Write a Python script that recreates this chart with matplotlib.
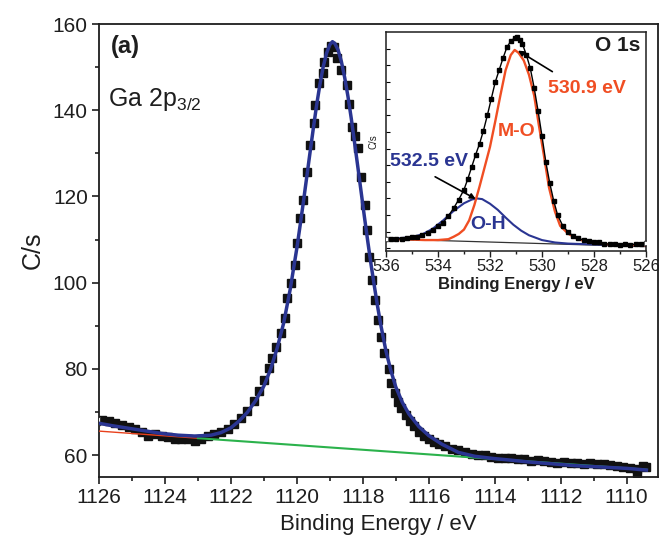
import numpy as np
import matplotlib
matplotlib.use('Agg')
import matplotlib.pyplot as plt
from matplotlib.ticker import MultipleLocator

plt.rcParams['font.family'] = ['Liberation Sans', 'DejaVu Sans']

#Ga 2p3/2 data (binding energy, counts)
ga_E = [1126.1, 1125.9, 1125.7, 1125.5, 1125.3, 1125.1, 1124.9, 1124.7, 1124.5, 1124.3,
        1124.1, 1123.9, 1123.7, 1123.5, 1123.3, 1123.1, 1122.9, 1122.7, 1122.5, 1122.3,
        1122.1, 1121.9, 1121.7, 1121.5, 1121.3, 1121.15, 1121.0, 1120.85, 1120.75, 1120.62,
        1120.48, 1120.36, 1120.31, 1120.18, 1120.06, 1120.01, 1119.91, 1119.81, 1119.68, 1119.61,
        1119.48, 1119.45, 1119.33, 1119.22, 1119.17, 1119.05, 1118.95, 1118.88, 1118.78, 1118.65,
        1118.49, 1118.42, 1118.34, 1118.24, 1118.14, 1118.04, 1117.94, 1117.86, 1117.8, 1117.72,
        1117.62, 1117.53, 1117.44, 1117.35, 1117.22, 1117.13, 1117.03, 1116.93, 1116.83, 1116.7,
        1116.58, 1116.45, 1116.3, 1116.15, 1116.0, 1115.85, 1115.7, 1115.5, 1115.3, 1115.1,
        1114.9, 1114.7, 1114.5, 1114.3, 1114.1, 1113.9, 1113.7, 1113.5, 1113.3, 1113.1,
        1112.9, 1112.7, 1112.5, 1112.3, 1112.1, 1111.9, 1111.7, 1111.5, 1111.3, 1111.1,
        1110.9, 1110.7, 1110.5, 1110.3, 1110.1, 1109.9, 1109.7, 1109.7, 1109.5, 1109.4]
ga_C = [68.0, 68.1, 67.9, 67.4, 67.0, 66.6, 66.1, 65.3, 64.5, 64.9,
        64.5, 64.1, 63.8, 63.8, 63.6, 63.3, 63.6, 64.5, 64.9, 65.3,
        66.0, 67.1, 68.6, 70.3, 72.6, 74.8, 77.5, 80.3, 82.5, 85.1,
        88.2, 91.7, 96.4, 100.0, 104.1, 109.1, 114.9, 119.2, 125.7, 131.9,
        137.0, 141.2, 146.2, 148.6, 151.3, 153.6, 155.0, 154.6, 152.2, 149.3,
        145.8, 141.5, 136.2, 134.0, 131.2, 124.6, 118.0, 112.2, 106.0, 100.6,
        96.0, 91.3, 87.4, 83.6, 80.0, 76.6, 74.3, 72.3, 70.8, 69.2,
        67.8, 66.7, 65.4, 64.4, 63.6, 63.1, 62.6, 62.0, 61.5, 61.1,
        60.7, 60.3, 60.0, 59.9, 59.6, 59.4, 59.3, 59.2, 59.1, 59.0,
        58.7, 58.8, 58.6, 58.3, 58.2, 58.4, 58.2, 58.1, 58.0, 58.1,
        57.8, 57.8, 57.7, 57.4, 57.3, 57.1, 56.8, 55.9, 57.4, 57.3]

#fitted envelope
fit_E = [1126.1, 1125.6, 1125.1, 1124.6, 1124.1, 1123.6, 1123.1, 1122.6, 1122.3, 1122.0,
         1121.75, 1121.5, 1121.25, 1121.0, 1120.8, 1120.6, 1120.4, 1120.2, 1120.0, 1119.9,
         1119.8, 1119.7, 1119.6, 1119.5, 1119.4, 1119.3, 1119.2, 1119.1, 1119.0, 1118.92,
         1118.85, 1118.75, 1118.65, 1118.55, 1118.45, 1118.35, 1118.25, 1118.15, 1118.05, 1117.95,
         1117.85, 1117.75, 1117.65, 1117.55, 1117.45, 1117.3, 1117.15, 1117.0, 1116.8, 1116.6,
         1116.3, 1116.0, 1115.6, 1115.1, 1114.6, 1114.05, 1113.5, 1113.0, 1112.5, 1112.0,
         1111.5, 1111.0, 1110.5, 1110.0, 1109.4]
fit_C = [67.5, 66.8, 66.2, 65.6, 65.0, 64.6, 64.4, 64.6, 65.2, 66.3,
         67.9, 69.9, 72.6, 76.0, 79.8, 84.7, 90.6, 98.5, 108.0, 113.3,
         118.8, 124.5, 130.2, 135.8, 141.2, 146.0, 150.1, 153.2, 155.2, 155.9,
         155.5, 154.0, 151.3, 147.6, 143.2, 138.1, 132.5, 126.8, 121.0, 115.2,
         109.6, 104.2, 99.2, 94.4, 90.0, 84.2, 79.6, 75.8, 72.2, 69.5,
         66.6, 64.5, 62.5, 60.6, 59.7, 59.2, 58.8, 58.4, 58.1, 57.8,
         57.5, 57.3, 57.1, 56.9, 56.5]

#background lines
bg_red_E = [1126.1, 1123.0]
bg_red_C = [65.6, 63.9]
bg_green_E = [1123.0, 1109.4]
bg_green_C = [63.9, 56.6]

#O 1s inset data
o_E = [536.0, 535.8, 535.6, 535.4, 535.2, 535.0, 534.8, 534.6, 534.4, 534.2,
       534.0, 533.8, 533.6, 533.4, 533.2, 533.0, 532.85, 532.7, 532.55, 532.4,
       532.25, 532.1, 531.95, 531.8, 531.65, 531.5, 531.35, 531.2, 531.05, 530.95,
       530.85, 530.75, 530.6, 530.45, 530.3, 530.15, 530.0, 529.85, 529.7, 529.55,
       529.4, 529.2, 529.0, 528.8, 528.6, 528.4, 528.2, 528.0, 527.8, 527.6,
       527.4, 527.2, 527.0, 526.8, 526.6, 526.4, 526.2, 526.0]
o_C = [5.6, 5.4, 5.7, 5.5, 6.0, 6.2, 6.6, 7.5, 8.3, 9.8,
       11.2, 13.0, 16.0, 19.5, 23.5, 28.0, 33.0, 38.5, 44.0, 49.0,
       55.0, 62.0, 69.5, 77.0, 82.5, 88.0, 93.0, 95.8, 97.3, 97.6,
       96.5, 94.5, 89.5, 83.5, 74.5, 64.0, 52.5, 40.5, 31.0, 23.0,
       16.5, 11.5, 8.8, 6.8, 5.8, 5.0, 4.5, 4.2, 3.9, 3.4,
       3.1, 3.0, 2.9, 3.1, 2.8, 3.2, 3.3, 3.5]

mo_E = [536.0, 535.0, 534.5, 534.0, 533.6, 533.4, 533.2, 533.0, 532.8, 532.6,
        532.4, 532.2, 532.0, 531.8, 531.6, 531.4, 531.2, 531.05, 530.9, 530.7,
        530.5, 530.3, 530.12, 529.93, 529.73, 529.5, 529.3, 529.0, 528.6, 528.0,
        527.5, 527.0, 526.5, 526.0]
mo_C = [5.5, 5.2, 5.0, 5.0, 5.4, 6.5, 7.8, 9.8, 14.0, 21.0,
        29.5, 38.5, 47.5, 59.0, 71.0, 82.5, 89.5, 91.8, 90.5, 87.0,
        80.5, 71.0, 57.5, 44.0, 29.0, 18.0, 11.5, 8.0, 5.3, 3.8,
        3.1, 2.8, 2.7, 2.6]

oh_E = [536.0, 535.5, 535.0, 534.6, 534.2, 533.8, 533.4, 533.0, 532.7, 532.5,
        532.3, 532.0, 531.7, 531.4, 531.1, 530.8, 530.5, 530.0, 529.5, 529.0,
        528.0, 527.0, 526.0]
oh_C = [5.5, 5.8, 6.4, 7.6, 10.2, 14.0, 18.3, 21.8, 23.5, 24.0,
        23.7, 21.6, 18.8, 15.3, 12.0, 9.3, 7.2, 5.0, 3.9, 3.4,
        3.0, 2.7, 2.5]

o_bg_E = [536.0, 526.0]
o_bg_C = [5.5, 2.0]

navy = '#2a3592'
orange = '#f04e23'
ink = '#1e1e1e'

fig = plt.figure(figsize=(6.59, 5.47), dpi=100)
ax = fig.add_axes([0.1502, 0.128, 0.8482, 0.8281])

ax.plot(ga_E, ga_C, 's', color='#111111', ms=5.4, zorder=2)
ax.plot(ga_E[0], ga_C[0], 's', mfc='white', mec='#333333', ms=5.4, mew=0.8, zorder=3)
ax.plot(bg_red_E, bg_red_C, color='#e8401c', lw=1.0, zorder=3)
ax.plot(bg_green_E, bg_green_C, color='#2bb24c', lw=1.5, zorder=3)
ax.plot(fit_E, fit_C, color=navy, lw=2.5, zorder=4)

ax.set_xlim(1126, 1109.05)
ax.set_ylim(54.9, 160)
ax.xaxis.set_major_locator(MultipleLocator(2))
ax.xaxis.set_minor_locator(MultipleLocator(1))
ax.yaxis.set_major_locator(MultipleLocator(20))
ax.yaxis.set_minor_locator(MultipleLocator(10))
ax.tick_params(which='both', direction='out', top=False, right=False, width=1.2, colors=ink)
ax.tick_params(which='major', length=5, labelsize=15, pad=3)
ax.tick_params(which='minor', length=3)
for s in ax.spines.values():
    s.set_linewidth(1.3)
    s.set_color(ink)
ax.set_xlabel('Binding Energy / eV', fontsize=16, labelpad=5, color=ink)
ax.set_ylabel('C/s', fontsize=18, labelpad=6, color=ink)

ax.text(1125.65, 154.7, '(a)', fontsize=17, fontweight='bold', va='center', ha='left', color=ink)
ax.text(1125.72, 142.4, r'Ga 2p$_\mathregular{3/2}$', fontsize=18, va='center', ha='left', color=ink)

#inset O 1s
ins = fig.add_axes([0.5857, 0.5411, 0.3945, 0.4004])
ins.plot(o_E, o_C, '-s', color='black', lw=1.0, ms=2.6, zorder=3)
ins.plot(o_bg_E, o_bg_C, color='#333333', lw=0.9, zorder=2)
ins.plot(oh_E, oh_C, color=navy, lw=1.5, zorder=2)
ins.plot(mo_E, mo_C, color=orange, lw=1.7, zorder=2)
ins.plot(o_E[0], o_C[0], 's', mfc='white', mec='#555555', ms=3, mew=0.6, zorder=4)
ins.plot(o_E[-1], o_C[-1], 's', mfc='white', mec='#555555', ms=3, mew=0.6, zorder=4)

ins.set_xlim(536, 526)
ins.set_ylim(0, 100)
ins.xaxis.set_major_locator(MultipleLocator(2))
ins.xaxis.set_minor_locator(MultipleLocator(1))
ins.set_yticks(np.arange(1.2, 100, 7.6))
ins.set_yticklabels([])
ins.tick_params(axis='x', which='both', direction='out', top=False, width=1.0, colors=ink)
ins.tick_params(axis='x', which='major', length=4, labelsize=12, pad=2)
ins.tick_params(axis='x', which='minor', length=2.5)
ins.tick_params(axis='y', direction='in', length=3, width=0.8, right=False)
for s in ins.spines.values():
    s.set_linewidth(1.1)
    s.set_color(ink)
ins.set_xlabel('Binding Energy / eV', fontsize=12, fontweight='bold', labelpad=2, color=ink)
ins.set_ylabel('C/s', fontsize=7, labelpad=2, color=ink)

ins.text(526.2, 94, 'O 1s', fontsize=15, fontweight='bold', ha='right', va='center', color=ink)
ins.text(529.75, 74.3, '530.9 eV', fontsize=14, fontweight='bold', ha='left', va='center', color=orange)
ins.text(531.71, 54.5, 'M-O', fontsize=14, fontweight='bold', ha='left', va='center', color=orange)
ins.text(535.85, 40.8, '532.5 eV', fontsize=14, fontweight='bold', ha='left', va='center', color=navy)
ins.text(532.76, 12.3, 'O-H', fontsize=14, fontweight='bold', ha='left', va='center', color=navy)
ins.annotate('', xy=(530.92, 91.5), xytext=(529.6, 81.9),
             arrowprops=dict(arrowstyle='-|>', color='black', lw=1.2, mutation_scale=8, shrinkA=0, shrinkB=0))
ins.annotate('', xy=(532.55, 23.8), xytext=(534.11, 33.9),
             arrowprops=dict(arrowstyle='-|>', color='black', lw=1.2, mutation_scale=8, shrinkA=0, shrinkB=0))

fig.savefig('out.png', dpi=100)
